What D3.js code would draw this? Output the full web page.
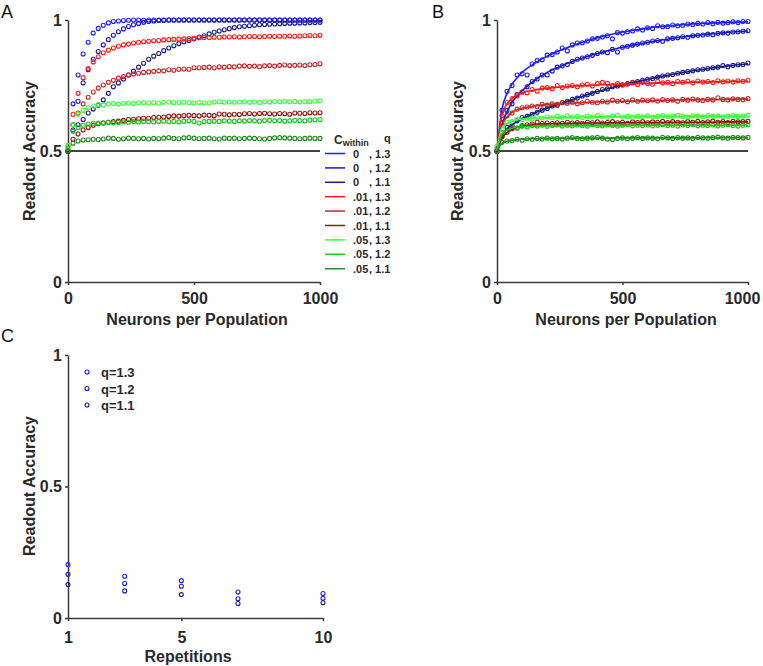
<!DOCTYPE html>
<html>
<head>
<meta charset="utf-8">
<script src="https://cdn.jsdelivr.net/npm/d3@7"></script>
<style>
  body { margin: 0; background: #fff; }
  svg text { font-family: "Liberation Sans", Arial, sans-serif; }
</style>
</head>
<body>
<div id="chart"></div>
<script>
// ---- data ----
// legend labels for the 9 conditions
const cWithin = ["0", "0", "0", ".01", ".01", ".01", ".05", ".05", ".05"];
const qVals = ["1.3", "1.2", "1.1", "1.3", "1.2", "1.1", "1.3", "1.2", "1.1"];
const colors = ["#1f1fff", "#1a1ac8", "#1c1c86", "#ff1a1a", "#c42828", "#981212", "#3cff3c", "#1ec41e", "#1f8a1f"];

// sampled population sizes (0, 20, ... 1000)
const neurons = d3.range(0, 1001, 20);

// panel A: readout accuracy
const accA1 = [.50,.68,.79,.87,.915,.95,.968,.98,.989,.994, .996,.998,.999,1,1,.999,1,1,1,1, 1,1,1,1,1,1,1,1,1,1, 1,1,1,1,1,1,1,1,1,1, 1,1,1,1,1,1,1,1,1,1, 1];
const accA2 = [.50,.60,.69,.76,.81,.85,.88,.905,.925,.942, .955,.966,.975,.982,.987,.991,.994,.996,.998,.999, 1,1,1,1,1,1,1,1,1,1, 1,1,1,1,1,1,1,1,1,1, 1,1,1,1,1,1,1,1,1,1, 1];
const accA3 = [.50,.58,.60,.62,.645,.66,.675,.695,.72,.745, .76,.775,.79,.805,.82,.835,.85,.862,.872,.883, .893,.902,.91,.917,.922,.928,.935,.94,.947,.953, .958,.963,.967,.971,.974,.976,.978,.98,.982,.983, .984,.985,.986,.987,.988,.988,.989,.989,.99,.99, .991];
const accA4 = [.52,.64,.72,.78,.815,.84,.86,.875,.885,.893, .90,.905,.908,.912,.915,.917,.919,.921,.922,.924, .925,.926,.927,.928,.929,.93,.932,.933,.933,.934, .934,.935,.935,.936,.935,.936,.937,.937,.936,.937, .938,.937,.938,.938,.939,.938,.939,.94,.941,.94, .942];
const accA5 = [.50,.60,.645,.68,.705,.725,.74,.752,.762,.77, .778,.784,.79,.794,.797,.80,.802,.804,.806,.806, .81,.808,.812,.813,.812,.818,.818,.819,.82,.818, .821,.82,.822,.821,.824,.825,.823,.824,.822,.825, .826,.824,.827,.828,.826,.827,.828,.826,.829,.83, .833];
const accA6 = [.50,.545,.565,.58,.59,.598,.604,.607,.61,.612, .614,.617,.62,.621,.623,.625,.625,.628,.629,.63, .632,.634,.633,.635,.636,.635,.634,.637,.636,.635, .641,.64,.638,.64,.639,.642,.643,.641,.643,.644, .642,.641,.643,.642,.64,.645,.644,.643,.646,.645, .646];
const accA7 = [.52,.60,.64,.655,.665,.672,.677,.675,.68,.681, .679,.682,.683,.681,.684,.685,.683,.684,.682,.686, .687,.684,.685,.686,.684,.683,.685,.684,.683,.687, .688,.686,.687,.686,.687,.688,.686,.687,.685,.688, .687,.689,.688,.69,.688,.689,.687,.688,.689,.691, .692];
const accA8 = [.51,.575,.59,.598,.603,.606,.607,.608,.61,.607, .609,.611,.61,.612,.611,.613,.612,.611,.613,.614, .612,.613,.611,.614,.615,.613,.607,.612,.613,.614, .613,.615,.614,.613,.615,.614,.616,.615,.614,.616, .617,.615,.616,.614,.615,.617,.616,.615,.618,.619, .62];
const accA9 = [.50,.53,.538,.542,.543,.545,.544,.546,.549,.548, .545,.547,.549,.548,.547,.548,.546,.548,.547,.549, .551,.548,.547,.55,.551,.549,.547,.548,.549,.547, .546,.549,.548,.549,.547,.548,.549,.548,.547,.546, .548,.55,.551,.55,.549,.548,.547,.548,.549,.548, .548];

// panel B: readout accuracy (points)
const accB1 = [.50,.655,.728,.75,.79,.795,.79,.832,.845,.848, .866,.868,.878,.893,.882,.905,.912,.913,.92,.928, .93,.935,.94,.928,.952,.95,.955,.958,.966,.962, .97,.968,.978,.974,.975,.981,.978,.98,.985,.983, .987,.985,.99,.986,.991,.988,.99,.993,.99,.994, .994];
const accB2 = [.50,.61,.655,.68,.715,.725,.745,.765,.775,.79, .79,.805,.82,.825,.83,.842,.85,.855,.86,.865, .872,.878,.875,.888,.878,.896,.90,.904,.908,.912, .915,.92,.922,.919,.928,.93,.932,.936,.934,.94, .942,.943,.946,.944,.949,.951,.95,.954,.955,.957, .959];
const accB3 = [.50,.555,.59,.597,.615,.628,.632,.64,.648,.656, .662,.672,.675,.684,.69,.697,.702,.71,.715,.72, .727,.735,.737,.745,.748,.753,.757,.762,.765,.77, .774,.777,.782,.786,.79,.792,.797,.80,.803,.806, .81,.812,.815,.818,.82,.826,.822,.827,.829,.83, .836];
const accB4 = [.50,.635,.685,.70,.71,.725,.722,.735,.728,.74, .742,.738,.75,.742,.748,.75,.745,.752,.755,.748, .757,.762,.758,.75,.757,.752,.756,.76,.754,.762, .758,.755,.765,.76,.762,.757,.765,.762,.766,.76, .767,.763,.765,.761,.768,.764,.767,.763,.768,.766, .77];
const accB5 = [.50,.605,.635,.645,.66,.665,.668,.672,.67,.678, .675,.68,.678,.685,.682,.686,.68,.684,.69,.686, .684,.69,.687,.694,.69,.693,.688,.695,.69,.694, .692,.695,.691,.696,.693,.695,.69,.697,.694,.698, .695,.693,.697,.695,.703,.697,.695,.699,.697,.696, .70];
const accB6 = [.50,.555,.572,.585,.588,.597,.60,.603,.61,.605, .607,.605,.608,.606,.61,.607,.609,.606,.61,.608, .611,.607,.609,.612,.608,.61,.606,.611,.609,.612, .608,.611,.61,.613,.609,.612,.61,.608,.612,.61, .613,.609,.611,.614,.61,.612,.609,.613,.611,.612, .613];
const accB7 = [.52,.585,.61,.612,.622,.62,.625,.624,.628,.626, .63,.627,.632,.629,.634,.63,.632,.628,.633,.63, .635,.631,.629,.634,.636,.63,.632,.629,.633,.631, .634,.63,.632,.635,.631,.633,.636,.632,.63,.634, .633,.631,.635,.632,.634,.631,.633,.635,.632,.634, .636];
const accB8 = [.51,.57,.578,.59,.588,.594,.592,.597,.595,.598, .594,.597,.599,.595,.598,.596,.599,.597,.595,.60, .597,.596,.599,.597,.595,.598,.60,.596,.598,.597, .599,.596,.598,.60,.597,.598,.595,.599,.597,.60, .596,.598,.597,.599,.596,.598,.60,.597,.595,.598, .60];
const accB9 = [.50,.533,.538,.54,.545,.541,.547,.545,.548,.546, .549,.547,.548,.546,.549,.551,.548,.547,.549,.55, .552,.549,.546,.544,.548,.55,.547,.549,.551,.548, .55,.549,.547,.552,.55,.548,.551,.549,.55,.548, .552,.55,.549,.551,.553,.55,.549,.552,.551,.55, .552];

// panel B: fitted curves
const fitX = [0, 20, 40, 60, 80, 100, 150, 200, 250, 300, 350, 400, 450, 500, 550, 600, 650, 700, 750, 800, 850, 900, 950, 1000];
const fitB1 = [.50,.66,.72,.755,.78,.80,.835,.862,.884,.902,.918,.932,.944,.954,.962,.969,.975,.979,.983,.986,.988,.99,.992,.993];
const fitB2 = [.50,.60,.65,.685,.71,.73,.77,.80,.822,.842,.858,.872,.885,.896,.906,.915,.923,.93,.937,.942,.947,.951,.955,.958];
const fitB3 = [.50,.56,.585,.60,.612,.623,.645,.663,.68,.697,.712,.727,.74,.752,.763,.774,.784,.793,.801,.809,.816,.822,.828,.833];
const fitB4 = [.50,.64,.68,.70,.713,.722,.733,.74,.744,.748,.75,.752,.754,.755,.757,.758,.76,.761,.762,.763,.764,.765,.766,.767];
const fitB5 = [.50,.60,.63,.648,.657,.663,.672,.677,.68,.683,.685,.687,.689,.69,.691,.692,.693,.694,.695,.696,.696,.697,.698,.698];
const fitB6 = [.50,.55,.57,.582,.59,.595,.601,.604,.605,.606,.607,.607,.608,.608,.609,.609,.609,.61,.61,.61,.61,.611,.611,.611];
const fitB7 = [.50,.59,.605,.614,.619,.622,.626,.628,.629,.63,.63,.631,.631,.631,.632,.632,.632,.632,.632,.633,.633,.633,.633,.633];
const fitB8 = [.50,.565,.58,.587,.591,.593,.595,.596,.596,.597,.597,.597,.597,.597,.598,.598,.598,.598,.598,.598,.598,.598,.598,.598];
const fitB9 = [.50,.53,.537,.541,.543,.545,.547,.548,.548,.549,.549,.549,.549,.55,.55,.55,.55,.55,.55,.55,.551,.551,.551,.551];

// panel C
const reps = [1, 3, 5, 7, 10];
const repQ = ["q=1.3", "q=1.2", "q=1.1"];
const repColors = ["#1f1fff", "#1a1ac8", "#1c1c86"];
const accC1 = [.203, .159, .142, .099, .093];
const accC2 = [.166, .131, .121, .073, .075];
const accC3 = [.127, .103, .089, .055, .058];

const seriesA = [accA1, accA2, accA3, accA4, accA5, accA6, accA7, accA8, accA9];
const seriesB = [accB1, accB2, accB3, accB4, accB5, accB6, accB7, accB8, accB9];
const fitsB = [fitB1, fitB2, fitB3, fitB4, fitB5, fitB6, fitB7, fitB8, fitB9];
const seriesC = [accC1, accC2, accC3];

// ---- drawing ----
const axisColor = "#3a3a3a";
const textColor = "#2a2a2a";

const svg = d3.select("#chart")
  .append("svg")
  .attr("width", 763)
  .attr("height", 666);

const yTop = d3.scaleLinear().domain([0, 1]).range([282, 20]);
const xA = d3.scaleLinear().domain([0, 1000]).range([68, 320]);
const xB = d3.scaleLinear().domain([0, 1000]).range([497, 748]);
const xC = d3.scaleLinear().domain([1, 10]).range([68, 323]);
const yC = d3.scaleLinear().domain([0, 1]).range([618, 355]);

const fmt = d3.format("~g");

function styleAxis(g) {
  g.attr("font-size", 16)
    .attr("font-weight", "bold")
    .attr("font-family", "'Liberation Sans', Arial, sans-serif");
  g.select(".domain").attr("stroke", axisColor).attr("stroke-width", 1.5);
  g.selectAll(".tick line").attr("stroke", axisColor).attr("stroke-width", 1.5);
  g.selectAll(".tick text").attr("fill", textColor);
}

function drawAxes(x, y, xTicks, yTicks, xPad) {
  const gx = svg.append("g")
    .attr("transform", "translate(0," + y.range()[0] + ")")
    .call(d3.axisBottom(x).tickValues(xTicks).tickFormat(fmt).tickSize(3).tickSizeOuter(0).tickPadding(xPad))
    .call(styleAxis);
  svg.append("g")
    .attr("transform", "translate(" + x.range()[0] + ",0)")
    .call(d3.axisLeft(y).tickValues(yTicks).tickFormat(fmt).tickSize(3).tickSizeOuter(0).tickPadding(3))
    .call(styleAxis);
  return gx;
}

function title(txt, x, y, rotate) {
  svg.append("text")
    .attr("transform", "translate(" + x + "," + y + ")" + (rotate ? " rotate(-90)" : ""))
    .attr("text-anchor", "middle")
    .attr("font-size", 16)
    .attr("font-weight", "bold")
    .attr("fill", textColor)
    .text(txt);
}

function panelLetter(txt, x, y) {
  svg.append("text")
    .attr("x", x).attr("y", y)
    .attr("font-size", 18)
    .attr("fill", "#111")
    .text(txt);
}

function chanceLine(x) {
  svg.append("line")
    .attr("x1", x(0)).attr("x2", x(1000))
    .attr("y1", yTop(0.5)).attr("y2", yTop(0.5))
    .attr("stroke", "#000")
    .attr("stroke-width", 1.5);
}

function drawPoints(x, y, xs, series, cols) {
  series.forEach((vals, k) => {
    svg.append("g")
      .selectAll("circle")
      .data(vals)
      .enter()
      .append("circle")
      .attr("cx", (d, i) => x(xs[i]))
      .attr("cy", (d) => y(d))
      .attr("r", 2)
      .attr("fill", "none")
      .attr("stroke", cols[k])
      .attr("stroke-width", 1.1);
  });
}

// ---- panel A ----
drawAxes(xA, yTop, [0, 500, 1000], [0, 0.5, 1], 8);
chanceLine(xA);
drawPoints(xA, yTop, neurons, seriesA, colors);
title("Readout Accuracy", 35, 151, true);
title("Neurons per Population", 197, 325, false);
panelLetter("A", 1, 18);

// legend A
const legRowY = (i) => 153.5 + i * 14.4;
const leg = svg.append("g")
  .attr("font-size", 11)
  .attr("font-weight", "bold")
  .attr("fill", textColor);

leg.append("text").attr("x", 334).attr("y", 144).attr("font-size", 12).text("C")
  .append("tspan").attr("font-size", 9).attr("dy", 2).text("within");
leg.append("text").attr("x", 384).attr("y", 142).attr("font-size", 11).text("q");

cWithin.forEach((c, i) => {
  leg.append("line")
    .attr("x1", 325).attr("x2", 345)
    .attr("y1", legRowY(i)).attr("y2", legRowY(i))
    .attr("stroke", colors[i])
    .attr("stroke-width", 1.5);
  leg.append("text").attr("x", 353).attr("y", legRowY(i) + 4).text(c);
  leg.append("text").attr("x", 369).attr("y", legRowY(i) + 4).text(", " + qVals[i]);
});

// ---- panel B ----
const gxB = drawAxes(xB, yTop, [0, 500, 1000], [0, 0.5, 1], 8);
// keep the last label inside the window
gxB.selectAll(".tick text").filter((d) => d === 1000).attr("dx", -6);
chanceLine(xB);
drawPoints(xB, yTop, neurons, seriesB, colors);

const fitLine = d3.line()
  .x((d, i) => xB(fitX[i]))
  .y((d) => yTop(d))
  .curve(d3.curveMonotoneX);

fitsB.forEach((vals, k) => {
  svg.append("path")
    .attr("d", fitLine(vals))
    .attr("fill", "none")
    .attr("stroke", colors[k])
    .attr("stroke-width", 1.6);
});
title("Readout Accuracy", 463, 151, true);
title("Neurons per Population", 626, 325, false);
panelLetter("B", 432, 18);

// ---- panel C ----
drawAxes(xC, yC, [1, 5, 10], [0, 0.5, 1], 11);
drawPoints(xC, yC, reps, seriesC, repColors);
title("Readout Accuracy", 35, 486, true);
title("Repetitions", 188, 662, false);
panelLetter("C", 1, 342);

const legC = svg.append("g")
  .attr("font-size", 13)
  .attr("font-weight", "bold")
  .attr("fill", textColor);
repQ.forEach((q, i) => {
  const yy = 372 + i * 16.5;
  legC.append("circle")
    .attr("cx", 87).attr("cy", yy).attr("r", 2)
    .attr("fill", "none")
    .attr("stroke", repColors[i])
    .attr("stroke-width", 1.1);
  legC.append("text").attr("x", 101).attr("y", yy + 5).text(q);
});
</script>
</body>
</html>
